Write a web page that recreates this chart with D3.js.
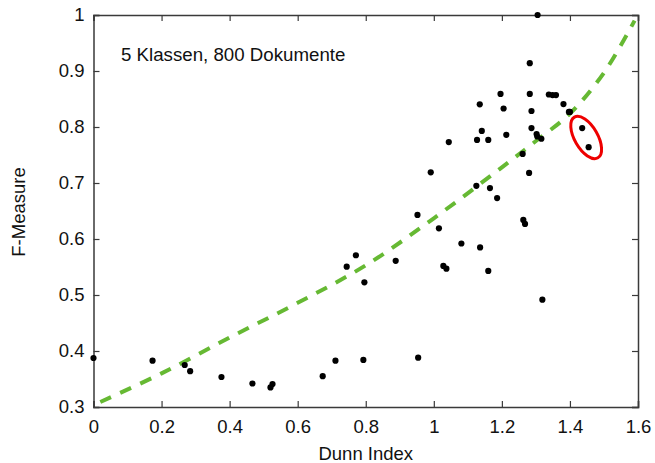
<!DOCTYPE html>
<html>
<head>
<meta charset="utf-8">
<script src="https://cdn.jsdelivr.net/npm/d3@7/dist/d3.min.js"></script>
<style>
  html, body { margin: 0; padding: 0; background: #fff; }
  svg { display: block; font-family: "Liberation Sans", Arial, sans-serif; }
</style>
</head>
<body>
<svg id="chart" width="655" height="463"></svg>
<script>
// ---- data ----
const dunnIndex = [1.305, 1.282, 1.196, 1.282, 1.338, 1.349, 1.359, 1.135, 1.205, 1.287,
  1.381, 1.397, 1.400, 1.436, 1.455, 1.141, 1.287, 1.127, 1.160, 1.213,
  1.302, 1.304, 1.316, 1.044, 1.261, 0.991, 1.280, 1.125, 1.165, 1.186,
  0.952, 1.015, 1.263, 1.268, 1.081, 1.136, 0.888, 1.028, 1.037, 1.160,
  1.319, 0.954, 0.771, 0.744, 0.796, 0.000, 0.1735, 0.268, 0.284, 0.376,
  0.467, 0.520, 0.526, 0.6735, 0.711, 0.793];
const fMeasure = [1.000, 0.914, 0.859, 0.859, 0.858, 0.857, 0.857, 0.8405, 0.833, 0.8286,
  0.841, 0.827, 0.827, 0.798, 0.764, 0.793, 0.798, 0.777, 0.777, 0.786,
  0.7875, 0.783, 0.779, 0.773, 0.752, 0.719, 0.718, 0.695, 0.691, 0.673,
  0.643, 0.619, 0.634, 0.627, 0.592, 0.585, 0.561, 0.552, 0.547, 0.543,
  0.4916, 0.388, 0.571, 0.5506, 0.5227, 0.3875, 0.3827, 0.375, 0.364, 0.3536,
  0.342, 0.335, 0.341, 0.355, 0.3827, 0.384];

// fitted trend curve
const trendX = [0.02, 0.2, 0.4, 0.6, 0.8, 1.0, 1.2, 1.3, 1.4, 1.5, 1.59];
const trendY = [0.309, 0.360, 0.424, 0.486, 0.553, 0.637, 0.728, 0.775, 0.824, 0.897, 0.99];

// highlighted pair (annotation ellipse centre)
const highlightX = [1.4477];
const highlightY = [0.7813];

const xTicks = [0, 0.2, 0.4, 0.6, 0.8, 1, 1.2, 1.4, 1.6];
const yTicks = [0.3, 0.4, 0.5, 0.6, 0.7, 0.8, 0.9, 1];

const titleText = "5 Klassen, 800 Dokumente";
const xLabel = "Dunn Index";
const yLabel = "F-Measure";

// ---- layout ----
const svg = d3.select("#chart");
const mLeft = 93.5, mRight = 638, mTop = 15, mBottom = 407;
const x = d3.scaleLinear().domain([0, 1.6]).range([mLeft, mRight]);
const y = d3.scaleLinear().domain([0.3, 1]).range([mBottom, mTop]);
const fmt = d => (d === 0 || d === 1) ? String(d) : d3.format(".1f")(d);
const frameColor = "#3a3a3a";
const fontSize = 18.5;

// trend curve (drawn under the points)
const trend = trendX.map((v, i) => [v, trendY[i]]);
svg.append("path")
  .datum(trend)
  .attr("fill", "none")
  .attr("stroke", "#66b933")
  .attr("stroke-width", 4)
  .attr("stroke-dasharray", "12,10")
  .attr("d", d3.line().x(d => x(d[0])).y(d => y(d[1])).curve(d3.curveCatmullRom.alpha(0.5)));

// axes
const axB = svg.append("g").attr("transform", `translate(0,${mBottom})`)
  .call(d3.axisBottom(x).tickValues(xTicks).tickSize(-6).tickPadding(13).tickFormat(fmt));
const axL = svg.append("g").attr("transform", `translate(${mLeft},0)`)
  .call(d3.axisLeft(y).tickValues(yTicks).tickSize(-6).tickPadding(9).tickFormat(fmt));
const axT = svg.append("g").attr("transform", `translate(0,${mTop})`)
  .call(d3.axisTop(x).tickValues(xTicks).tickSize(-6).tickFormat(""));
const axR = svg.append("g").attr("transform", `translate(${mRight},0)`)
  .call(d3.axisRight(y).tickValues(yTicks).tickSize(-6).tickFormat(""));

[axB, axL, axT, axR].forEach(g => {
  g.select(".domain").attr("stroke", frameColor).attr("stroke-width", 1.5);
  g.selectAll(".tick line").attr("stroke", frameColor).attr("stroke-width", 1.2);
  g.selectAll(".tick text").attr("fill", "#111").style("font-size", fontSize + "px")
    .style("font-family", '"Liberation Sans", Arial, sans-serif');
});

// points
svg.append("g").selectAll("circle")
  .data(dunnIndex.map((v, i) => [v, fMeasure[i]]))
  .join("circle")
  .attr("cx", d => x(d[0]))
  .attr("cy", d => y(d[1]))
  .attr("r", 3.1)
  .attr("fill", "#000");

// annotation ellipse
svg.append("g").selectAll("ellipse")
  .data(highlightX.map((v, i) => [v, highlightY[i]]))
  .join("ellipse")
  .attr("transform", d => `translate(${x(d[0])},${y(d[1])}) rotate(60)`)
  .attr("rx", 23.5)
  .attr("ry", 11.5)
  .attr("fill", "none")
  .attr("stroke", "#ee0000")
  .attr("stroke-width", 3);

// texts
svg.append("text")
  .attr("x", 121).attr("y", 61)
  .attr("fill", "#111")
  .style("font-size", "18.7px")
  .text(titleText);

svg.append("text")
  .attr("x", (mLeft + mRight) / 2).attr("y", 460)
  .attr("text-anchor", "middle")
  .attr("fill", "#111")
  .style("font-size", fontSize + "px")
  .text(xLabel);

svg.append("text")
  .attr("transform", `translate(25,212) rotate(-90)`)
  .attr("text-anchor", "middle")
  .attr("fill", "#111")
  .style("font-size", fontSize + "px")
  .text(yLabel);
</script>
</body>
</html>
